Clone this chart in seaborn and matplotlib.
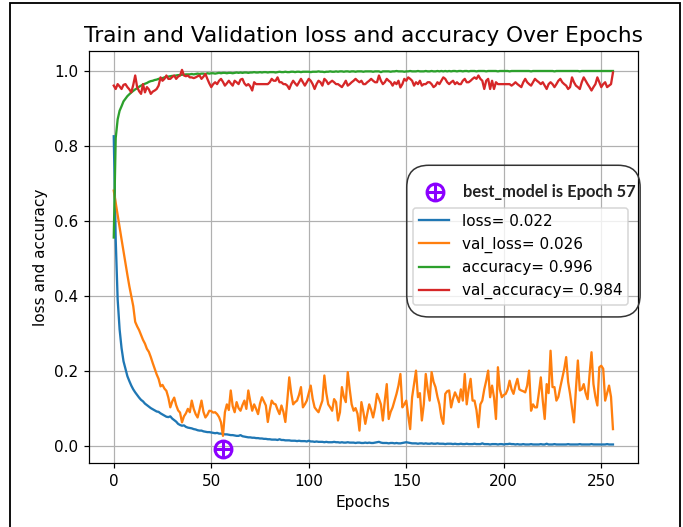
import matplotlib
matplotlib.use("Agg")
import matplotlib.pyplot as plt
import seaborn as sns
from matplotlib.patches import FancyBboxPatch, Rectangle

## training history (epoch index 0..256)
epochs = list(range(257))

loss = [
    0.825, 0.55, 0.39, 0.31, 0.26, 0.225, 0.205, 0.185, 0.172, 0.160,
    0.150, 0.142, 0.135, 0.128, 0.122, 0.118, 0.112, 0.108, 0.104, 0.100,
    0.097, 0.094, 0.091, 0.090, 0.086, 0.083, 0.080, 0.077, 0.076, 0.078,
    0.072, 0.068, 0.064, 0.058, 0.055, 0.053, 0.054, 0.050, 0.048, 0.047,
    0.046, 0.044, 0.043, 0.041, 0.040, 0.040, 0.038, 0.037, 0.036, 0.036,
    0.035, 0.034, 0.033, 0.034, 0.032, 0.032, 0.031, 0.030, 0.030, 0.029,
    0.028, 0.028, 0.027, 0.026, 0.026, 0.028, 0.025, 0.024, 0.023, 0.022,
    0.022, 0.021, 0.021, 0.020, 0.020, 0.019, 0.019, 0.018, 0.018, 0.017,
    0.017, 0.016, 0.016, 0.016, 0.015, 0.017, 0.015, 0.015, 0.014, 0.014,
    0.014, 0.013, 0.013, 0.013, 0.012, 0.013, 0.012, 0.012, 0.012, 0.011,
    0.013, 0.011, 0.011, 0.010, 0.011, 0.010, 0.010, 0.010, 0.009, 0.010,
    0.009, 0.009, 0.009, 0.010, 0.009, 0.009, 0.008, 0.009, 0.008, 0.008,
    0.009, 0.008, 0.008, 0.008, 0.007, 0.008, 0.008, 0.007, 0.007, 0.008,
    0.007, 0.008, 0.007, 0.007, 0.008, 0.009, 0.010, 0.008, 0.007, 0.007,
    0.007, 0.006, 0.007, 0.007, 0.006, 0.007, 0.006, 0.006, 0.007, 0.008,
    0.009, 0.008, 0.007, 0.006, 0.006, 0.006, 0.005, 0.006, 0.006, 0.005,
    0.006, 0.005, 0.005, 0.006, 0.005, 0.005, 0.006, 0.005, 0.005, 0.005,
    0.004, 0.005, 0.005, 0.005, 0.004, 0.005, 0.004, 0.004, 0.005, 0.004,
    0.004, 0.005, 0.004, 0.004, 0.004, 0.005, 0.004, 0.004, 0.004, 0.006,
    0.004, 0.004, 0.004, 0.003, 0.004, 0.004, 0.004, 0.003, 0.004, 0.004,
    0.003, 0.004, 0.004, 0.005, 0.004, 0.004, 0.003, 0.004, 0.003, 0.003,
    0.004, 0.003, 0.003, 0.003, 0.004, 0.003, 0.003, 0.003, 0.003, 0.004,
    0.003, 0.003, 0.005, 0.003, 0.003, 0.003, 0.004, 0.003, 0.003, 0.003,
    0.003, 0.003, 0.003, 0.004, 0.003, 0.003, 0.003, 0.003, 0.003, 0.004,
    0.003, 0.003, 0.003, 0.003, 0.003, 0.004, 0.003, 0.003, 0.003, 0.003,
    0.003, 0.003, 0.003, 0.004, 0.003, 0.003, 0.003,
]

val_loss = [
    0.680, 0.648, 0.615, 0.582, 0.550, 0.518, 0.485, 0.455, 0.425, 0.398,
    0.372, 0.330, 0.318, 0.308, 0.295, 0.282, 0.272, 0.258, 0.250, 0.236,
    0.220, 0.205, 0.190, 0.178, 0.158, 0.162, 0.152, 0.146, 0.128, 0.102,
    0.118, 0.128, 0.108, 0.094, 0.088, 0.062, 0.078, 0.086, 0.098, 0.089,
    0.120, 0.098, 0.084, 0.075, 0.096, 0.120, 0.090, 0.075, 0.082, 0.093,
    0.092, 0.088, 0.089, 0.084, 0.076, 0.062, 0.026, 0.089, 0.110, 0.095,
    0.147, 0.105, 0.089, 0.116, 0.100, 0.093, 0.108, 0.120, 0.098, 0.147,
    0.118, 0.093, 0.110, 0.098, 0.084, 0.112, 0.129, 0.118, 0.107, 0.063,
    0.095, 0.120, 0.112, 0.110, 0.096, 0.084, 0.107, 0.090, 0.063, 0.120,
    0.182, 0.140, 0.110, 0.116, 0.120, 0.135, 0.156, 0.102, 0.110, 0.120,
    0.140, 0.160, 0.125, 0.102, 0.095, 0.089, 0.105, 0.120, 0.187, 0.140,
    0.110, 0.102, 0.093, 0.124, 0.116, 0.067, 0.089, 0.156, 0.130, 0.116,
    0.196, 0.150, 0.110, 0.093, 0.100, 0.085, 0.040, 0.116, 0.090, 0.058,
    0.085, 0.110, 0.095, 0.075, 0.100, 0.138, 0.125, 0.110, 0.067, 0.120,
    0.164, 0.071, 0.090, 0.102, 0.120, 0.138, 0.160, 0.191, 0.102, 0.110,
    0.120, 0.080, 0.044, 0.129, 0.165, 0.200, 0.129, 0.140, 0.067, 0.110,
    0.191, 0.150, 0.120, 0.196, 0.170, 0.156, 0.130, 0.110, 0.075, 0.058,
    0.138, 0.145, 0.147, 0.102, 0.125, 0.142, 0.130, 0.116, 0.150, 0.120,
    0.191, 0.110, 0.150, 0.178, 0.120, 0.120, 0.095, 0.049, 0.110, 0.120,
    0.150, 0.173, 0.200, 0.129, 0.160, 0.129, 0.071, 0.209, 0.150, 0.129,
    0.135, 0.138, 0.150, 0.173, 0.150, 0.138, 0.160, 0.178, 0.150, 0.147,
    0.145, 0.142, 0.160, 0.200, 0.093, 0.110, 0.102, 0.102, 0.140, 0.182,
    0.120, 0.071, 0.164, 0.140, 0.253, 0.156, 0.156, 0.120, 0.130, 0.156,
    0.180, 0.204, 0.236, 0.170, 0.138, 0.100, 0.062, 0.150, 0.227, 0.147,
    0.150, 0.164, 0.140, 0.124, 0.190, 0.249, 0.164, 0.130, 0.107, 0.209,
    0.213, 0.205, 0.120, 0.140, 0.160, 0.130, 0.044,
]

accuracy = [
    0.555, 0.820, 0.870, 0.893, 0.905, 0.918, 0.925, 0.932, 0.937, 0.942,
    0.946, 0.950, 0.953, 0.957, 0.960, 0.963, 0.965, 0.967, 0.970, 0.972,
    0.973, 0.975, 0.976, 0.978, 0.979, 0.980, 0.982, 0.983, 0.984, 0.985,
    0.986, 0.986, 0.987, 0.988, 0.988, 0.989, 0.989, 0.990, 0.990, 0.990,
    0.991, 0.990, 0.991, 0.992, 0.991, 0.992, 0.992, 0.991, 0.993, 0.992,
    0.993, 0.993, 0.992, 0.993, 0.994, 0.993, 0.994, 0.994, 0.993, 0.994,
    0.994, 0.993, 0.994, 0.995, 0.994, 0.995, 0.994, 0.995, 0.995, 0.994,
    0.995, 0.995, 0.996, 0.995, 0.995, 0.996, 0.995, 0.996, 0.996, 0.995,
    0.996, 0.996, 0.996, 0.995, 0.996, 0.997, 0.996, 0.996, 0.997, 0.996,
    0.996, 0.997, 0.997, 0.996, 0.997, 0.997, 0.996, 0.997, 0.997, 0.997,
    0.997, 0.996, 0.997, 0.997, 0.997, 0.998, 0.997, 0.997, 0.996, 0.997,
    0.997, 0.998, 0.997, 0.997, 0.998, 0.997, 0.998, 0.998, 0.997, 0.998,
    0.998, 0.997, 0.998, 0.998, 0.997, 0.998, 0.998, 0.998, 0.997, 0.998,
    0.998, 0.998, 0.998, 0.997, 0.998, 0.998, 0.998, 0.996, 0.998, 0.998,
    0.998, 0.998, 0.997, 0.998, 0.998, 0.999, 0.998, 0.998, 0.998, 0.997,
    0.998, 0.998, 0.999, 0.998, 0.998, 0.998, 0.999, 0.998, 0.998, 0.998,
    0.999, 0.998, 0.998, 0.999, 0.998, 0.998, 0.999, 0.998, 0.999, 0.998,
    0.999, 0.998, 0.999, 0.998, 0.999, 0.999, 0.998, 0.999, 0.999, 0.998,
    0.999, 0.999, 0.998, 0.999, 0.999, 0.999, 0.998, 0.999, 0.999, 0.999,
    0.999, 0.998, 0.999, 0.999, 0.999, 0.999, 0.999, 0.998, 0.999, 0.999,
    0.999, 0.999, 0.999, 0.998, 0.999, 0.999, 0.999, 0.999, 0.999, 0.999,
    0.999, 0.999, 0.999, 0.999, 0.998, 0.999, 0.999, 0.999, 0.999, 0.999,
    0.999, 0.999, 0.999, 0.999, 0.999, 0.999, 0.998, 0.999, 0.999, 0.999,
    0.999, 0.999, 0.999, 0.999, 0.999, 0.999, 0.999, 0.999, 0.999, 0.998,
    0.999, 0.999, 0.999, 0.999, 0.999, 0.999, 0.999, 0.999, 0.999, 0.999,
    0.999, 0.999, 0.999, 0.999, 0.999, 0.999, 0.999,
]

val_accuracy = [
    0.960, 0.951, 0.964, 0.958, 0.951, 0.962, 0.964, 0.956, 0.950, 0.942,
    0.962, 0.987, 0.956, 0.945, 0.938, 0.964, 0.942, 0.956, 0.950, 0.938,
    0.944, 0.947, 0.951, 0.960, 0.982, 0.973, 0.978, 0.987, 0.978, 0.978,
    0.983, 0.987, 0.978, 0.984, 0.987, 1.002, 0.987, 0.985, 0.987, 0.982,
    0.982, 0.980, 0.982, 0.985, 0.987, 0.978, 0.984, 0.991, 0.978, 0.966,
    0.956, 0.964, 0.969, 0.964, 0.973, 0.978, 0.970, 0.960, 0.966, 0.973,
    0.966, 0.960, 0.973, 0.969, 0.964, 0.976, 0.978, 0.966, 0.960, 0.964,
    0.958, 0.947, 0.969, 0.964, 0.964, 0.964, 0.964, 0.964, 0.964, 0.964,
    0.969, 0.978, 0.973, 0.973, 0.982, 0.969, 0.969, 0.964, 0.964, 0.960,
    0.951, 0.964, 0.973, 0.966, 0.960, 0.969, 0.978, 0.969, 0.960, 0.969,
    0.978, 0.973, 0.964, 0.951, 0.964, 0.973, 0.969, 0.960, 0.978, 0.973,
    0.964, 0.969, 0.973, 0.969, 0.964, 0.964, 0.960, 0.956, 0.964, 0.973,
    0.960, 0.964, 0.969, 0.973, 0.978, 0.973, 0.969, 0.973, 0.964, 0.964,
    0.969, 0.973, 0.978, 0.973, 0.969, 0.969, 0.987, 0.973, 0.964, 0.969,
    0.978, 0.973, 0.969, 0.960, 0.969, 0.964, 0.973, 0.955, 0.964, 0.978,
    0.973, 0.982, 0.978, 0.973, 0.960, 0.969, 0.964, 0.973, 0.960, 0.964,
    0.964, 0.969, 0.969, 0.964, 0.956, 0.960, 0.969, 0.964, 0.973, 0.982,
    0.978, 0.969, 0.964, 0.969, 0.973, 0.964, 0.969, 0.964, 0.964, 0.973,
    0.978, 0.969, 0.969, 0.973, 0.978, 0.982, 0.978, 0.987, 0.978, 0.973,
    0.951, 0.973, 0.978, 0.951, 0.973, 0.951, 0.969, 0.964, 0.964, 0.964,
    0.964, 0.964, 0.964, 0.964, 0.960, 0.964, 0.969, 0.964, 0.960, 0.956,
    0.969, 0.978, 0.969, 0.964, 0.960, 0.969, 0.978, 0.973, 0.969, 0.964,
    0.969, 0.960, 0.951, 0.964, 0.969, 0.964, 0.956, 0.964, 0.973, 0.978,
    0.969, 0.964, 0.960, 0.951, 0.956, 0.982, 0.969, 0.960, 0.956, 0.951,
    0.969, 0.982, 0.973, 0.964, 0.956, 0.947, 0.956, 0.964, 0.982, 0.969,
    0.956, 0.964, 0.969, 0.956, 0.960, 0.964, 0.995,
]

series_labels = ["loss= 0.022", "val_loss= 0.026", "accuracy= 0.996", "val_accuracy= 0.984"]
best_epoch = 56          # index of lowest val_loss (shown as epoch 57)
best_marker_y = -0.01
best_text = "best_model is Epoch 57"

## figure
fig = plt.figure(figsize=(683 / 110, 527 / 110), dpi=110)
ax = fig.add_axes([0.130, 0.121, 0.804, 0.782])

for y, lab, col in zip([loss, val_loss, accuracy, val_accuracy], series_labels,
                       ["tab:blue", "tab:orange", "tab:green", "tab:red"]):
    sns.lineplot(x=epochs, y=y, label=lab, color=col, ax=ax, linewidth=1.5)

purple = "#8B00FF"
ax.plot([best_epoch], [best_marker_y], linestyle="none", marker="o", ms=11,
        mfc="none", mec=purple, mew=2, clip_on=False)
ax.plot([best_epoch], [best_marker_y], linestyle="none", marker="+", ms=11,
        mec=purple, mew=2, clip_on=False)

ax.set_xlim(-12.8, 268.8)
ax.set_ylim(-0.047, 1.052)
ax.grid(True)
ax.set_title("Train and Validation loss and accuracy Over Epochs", fontsize=14.2)
ax.set_xlabel("Epochs")
ax.set_ylabel("loss and accuracy")

ax.legend(loc="upper left", bbox_to_anchor=(0.590, 0.620), borderaxespad=0)

# rounded outer box holding the best-epoch note and the legend
ax.add_patch(FancyBboxPatch((0.579, 0.355), 0.425, 0.368,
                            boxstyle="round,pad=0,rounding_size=0.04",
                            mutation_aspect=549 / 411, transform=ax.transAxes,
                            fill=False, ec="#333333", lw=1, clip_on=False, zorder=6))
ax.plot([0.630], [0.659], transform=ax.transAxes, linestyle="none", marker="o",
        ms=11, mfc="none", mec=purple, mew=2, clip_on=False, zorder=7)
ax.plot([0.630], [0.659], transform=ax.transAxes, linestyle="none", marker="+",
        ms=11, mec=purple, mew=2, clip_on=False, zorder=7)
ax.text(0.681, 0.659, best_text, transform=ax.transAxes, va="center", ha="left",
        fontsize=10.8, fontweight="bold", family=["Lato", "DejaVu Sans"], color="#222222")

# screenshot frame around the image
fig.add_artist(Rectangle((10 / 683, -0.05), 670 / 683, 1.05 - 3 / 527,
                         transform=fig.transFigure, fill=False, ec="black", lw=1.2))

fig.savefig("out.png", dpi=110)
plt.close(fig)
